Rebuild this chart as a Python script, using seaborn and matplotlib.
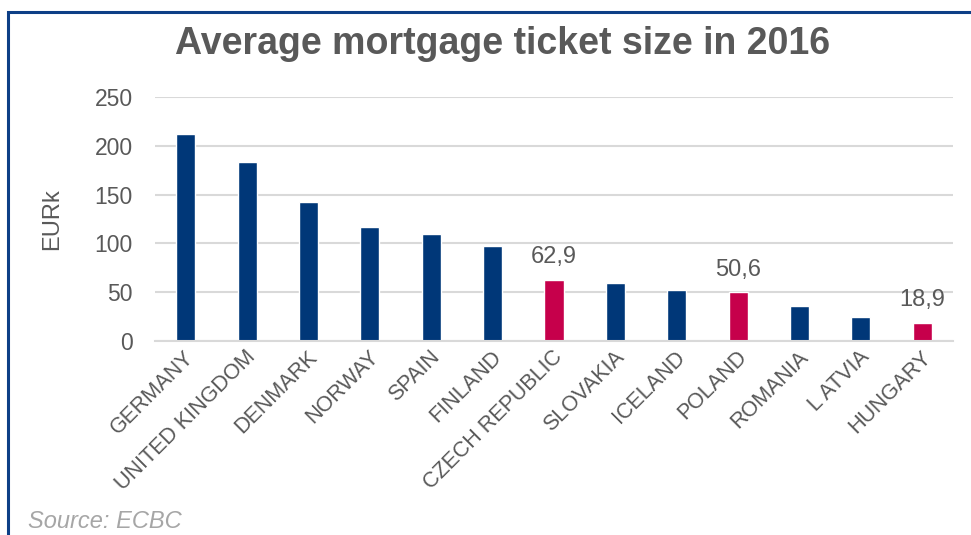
import matplotlib
matplotlib.use("Agg")
import matplotlib.pyplot as plt
from matplotlib.patches import Rectangle
from matplotlib.transforms import ScaledTranslation
import seaborn as sns
import pandas as pd

# Average mortgage ticket size in 2016 (EURk)
countries = ["GERMANY", "UNITED KINGDOM", "DENMARK", "NORWAY", "SPAIN", "FINLAND",
             "CZECH REPUBLIC", "SLOVAKIA", "ICELAND", "POLAND", "ROMANIA", "L ATVIA", "HUNGARY"]
values = [212, 183, 142, 117, 110, 97, 62.9, 59, 52, 50.6, 35.5, 25, 18.9]
highlighted = ["CZECH REPUBLIC", "POLAND", "HUNGARY"]
y_ticks = [0, 50, 100, 150, 200, 250]

NAVY = "#003778"
CRIMSON = "#C6004B"
GRAY = "#595959"

sns.set_theme(style="white")
plt.rcParams["font.family"] = ["Liberation Sans", "DejaVu Sans"]

df = pd.DataFrame({"country": countries, "value": values})
df["group"] = ["hl" if c in highlighted else "base" for c in countries]

fig = plt.figure(figsize=(9.71, 5.35), dpi=100)
ax = fig.add_axes([155 / 971, 1 - 341 / 535, (953 - 155) / 971, (341 - 97) / 535])

sns.barplot(data=df, x="country", y="value", hue="group",
            palette={"base": NAVY, "hl": CRIMSON}, width=0.31,
            dodge=False, legend=False, saturation=1, ax=ax)

ax.set_ylim(0, 250)
ax.set_yticks(y_ticks)
ax.set_xlim(-0.5, len(countries) - 0.5)
ax.yaxis.grid(True, color="#D9D9D9", linewidth=1.5)
ax.set_axisbelow(True)
for side in ["top", "right", "left"]:
    ax.spines[side].set_visible(False)
ax.spines["bottom"].set_color("#D9D9D9")
ax.spines["bottom"].set_linewidth(1.5)
ax.tick_params(axis="both", length=0)
ax.tick_params(axis="y", labelsize=16.5, labelcolor=GRAY, pad=16)
ax.tick_params(axis="x", labelsize=15.5, labelcolor=GRAY, pad=4)
shift = ScaledTranslation(-2 / 100, 0, fig.dpi_scale_trans)
for lbl in ax.get_xticklabels():
    lbl.set_rotation(45)
    lbl.set_ha("right")
    lbl.set_rotation_mode("anchor")
    lbl.set_transform(lbl.get_transform() + shift)
ax.set_xlabel("")
ax.set_ylabel("")
fig.text(52 / 971, 1 - 219 / 535, "EURk", rotation=90, ha="center", va="center",
         fontsize=17, color=GRAY)

# value labels on the highlighted bars
for i, (c, v) in enumerate(zip(countries, values)):
    if c in highlighted:
        ax.annotate(f"{v:.1f}".replace(".", ","), (i, v), xytext=(0, 8),
                    textcoords="offset points", ha="center", va="bottom",
                    fontsize=17, color=GRAY)

fig.text(503 / 971, 1 - 44 / 535, "Average mortgage ticket size in 2016",
         ha="center", va="center", fontsize=27, fontweight="bold", color=GRAY)
fig.text(28 / 971, 1 - 521 / 535, "Source: ECBC", ha="left", va="center",
         fontsize=17, style="italic", color="#A6A6A6")

# outer frame
fig.patches.append(Rectangle((7.5 / 971, -0.2), 1.2, 1.2 - 11.5 / 535,
                             transform=fig.transFigure, fill=False,
                             edgecolor="#0D3F86", linewidth=2.2))

fig.savefig("out.png", dpi=100)
